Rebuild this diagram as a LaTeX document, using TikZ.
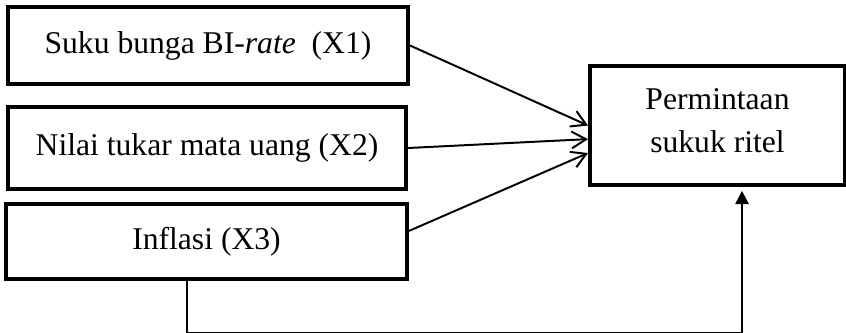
\documentclass[tikz,border=0pt]{standalone}
\usepackage{fontspec}
\setmainfont{Liberation Serif}
\usetikzlibrary{arrows.meta, calc}

\begin{document}
\begin{tikzpicture}[x=0.025cm, y=-0.025cm,
        varbox/.style={rectangle, draw, line width=2.8pt, align=center, font=\fontsize{22.5}{31}\selectfont},
        link/.style={line width=1.4pt, -{Straight Barb[length=0.36cm, width=0.42cm, line width=1.4pt]}},
        feedback/.style={line width=1pt, -{Triangle[length=0.33cm, width=0.34cm]}}]
        \useasboundingbox (0,0) rectangle (846,332);

        % Nodes
        \node[varbox, minimum width=10cm, minimum height=1.925cm] (x1) at (208, 45.5) {Suku bunga BI-\textit{rate}~ (X1)};
        \node[varbox, minimum width=9.95cm, minimum height=2.05cm] (x2) at (207, 148) {Nilai tukar mata uang (X2)};
        \node[varbox, minimum width=10.025cm, minimum height=1.875cm] (x3) at (206.5, 241.5) {Inflasi (X3)};
        \node[varbox, minimum width=6.375cm, minimum height=2.975cm] (y) at (717.5, 125.5) {Permintaan\\sukuk ritel\\[-0.84cm]};

        % Lines
        \draw[link] (x1.east) -- (y.west);
        \draw[link] (x2.east) -- (y.186);
        \draw[link] (x3.3) -- (y.192.2);
        \draw[feedback, shorten >=0.1cm] ($(x3.south)+(-19.5,0)$) -- ++(0,51.5) -| ($(y.south)+(24.5,0)$);
    \end{tikzpicture}
\end{document}
